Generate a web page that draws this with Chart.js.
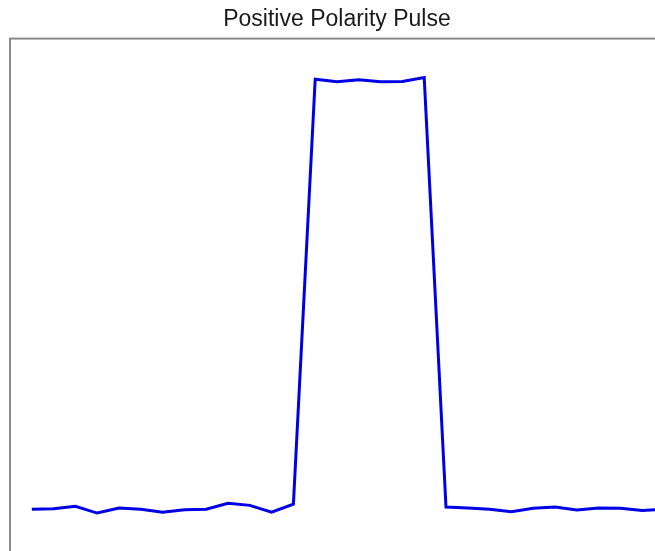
<!DOCTYPE html>
<html>
<head>
<meta charset="utf-8">
<title>Positive Polarity Pulse</title>
<script src="https://cdn.jsdelivr.net/npm/chart.js@4/dist/chart.umd.min.js"></script>
<style>
  html, body { margin: 0; padding: 0; background: #fff; overflow: hidden; }
  #wrap { width: 674px; height: 556px; }
</style>
</head>
<body>
<div id="wrap"><canvas id="pulse" width="674" height="556"></canvas></div>
<script>
// samples 1..30, amplitude (0 = baseline, 1 = top of pulse)
const sampleIdx = [1, 2, 3, 4, 5, 6, 7, 8, 9, 10, 11, 12, 13, 14, 15,
  16, 17, 18, 19, 20, 21, 22, 23, 24, 25, 26, 27, 28, 29, 30];
const amplitude = [0.000, 0.001, 0.007, -0.009, 0.003, 0.000, -0.007, -0.001, 0.000, 0.014,
  0.009, -0.007, 0.012, 1.005, 0.999, 1.004, 0.999, 1.000, 1.009, 0.005,
  0.003, 0.000, -0.006, 0.002, 0.005, -0.002, 0.003, 0.002, -0.003, 0.000];

const xRange = [0, 30];
const yRange = [-0.1, 1.1];

// grey axes box drawn round the plot area (MATLAB style)
const frame = {
  id: 'frame',
  afterDraw(chart) {
    const { ctx, chartArea: a } = chart;
    ctx.save();
    ctx.strokeStyle = '#8a8a8a';
    ctx.lineWidth = 2;
    ctx.strokeRect(a.left, a.top, a.right - a.left, a.bottom - a.top);
    ctx.restore();
  },
};

new Chart(document.getElementById('pulse'), {
  type: 'line',
  data: {
    datasets: [{
      data: sampleIdx.map((x, i) => ({ x, y: amplitude[i] })),
      borderColor: '#0000e6',
      borderWidth: 3,
      pointRadius: 0,
      tension: 0,
      fill: false,
    }],
  },
  options: {
    responsive: false,
    animation: false,
    layout: { padding: { left: 10, right: 10, top: 0, bottom: 4 } },
    plugins: {
      legend: { display: false },
      tooltip: { enabled: false },
      title: {
        display: true,
        text: 'Positive Polarity Pulse',
        color: '#1a1a1a',
        font: { family: '"Liberation Sans", Arial, sans-serif', size: 23, weight: 'normal' },
        padding: { top: 6, bottom: 5 },
      },
    },
    scales: {
      x: { type: 'linear', min: xRange[0], max: xRange[1], display: false },
      y: { type: 'linear', min: yRange[0], max: yRange[1], display: false },
    },
  },
  plugins: [frame],
});
</script>
</body>
</html>
